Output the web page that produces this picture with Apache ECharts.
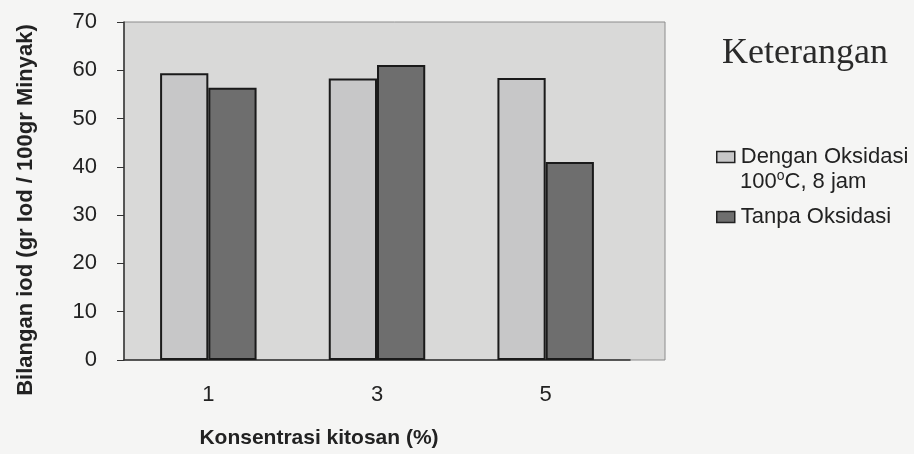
<!DOCTYPE html>
<html>
<head>
<meta charset="utf-8">
<script src="https://cdn.jsdelivr.net/npm/echarts@6/dist/echarts.min.js"></script>
<style>
  html, body { margin: 0; padding: 0; background: #f5f5f4; }
  #chart { width: 914px; height: 454px; }
</style>
</head>
<body>
<div id="chart"></div>
<script>
// konsentrasi kitosan (%)
const categories = ['1', '3', '5'];
const denganOksidasi = [59.4, 58.3, 58.4];
const tanpaOksidasi = [56.4, 61.1, 41.0];
const yTicks = { min: 0, max: 70, interval: 10 };

const textColor = '#222';
const font = '"Liberation Sans", Arial, sans-serif';

const chart = echarts.init(document.getElementById('chart'));

chart.setOption({
    backgroundColor: '#f5f5f4',
    animation: false,
    grid: { left: 124, right: 284, top: 22, bottom: 94 },
    graphic: [
        {
            type: 'rect', z: -10, silent: true,
            shape: { x: 124, y: 22, width: 541, height: 338 },
            style: { fill: '#d9d9d8', stroke: '#8c8c8c', lineWidth: 1 }
        },
        {
            type: 'text',
            x: 26, y: 210, rotation: Math.PI / 2,
            style: {
                text: 'Bilangan iod (gr Iod / 100gr Minyak)',
                font: 'bold 22px ' + font, fill: textColor,
                textAlign: 'center', textVerticalAlign: 'middle'
            }
        },
        {
            type: 'text',
            x: 319, y: 438,
            style: {
                text: 'Konsentrasi kitosan (%)',
                font: 'bold 21px ' + font, fill: textColor,
                textAlign: 'center', textVerticalAlign: 'middle'
            }
        },
        {
            type: 'text',
            x: 805, y: 54,
            style: {
                text: 'Keterangan',
                font: '36px "Liberation Serif", "Times New Roman", serif', fill: '#2a2a2a',
                textAlign: 'center', textVerticalAlign: 'middle'
            }
        },
        {
            type: 'text',
            x: 740, y: 182,
            style: {
                text: '100{sup|o}C, 8 jam',
                font: '22px ' + font, fill: textColor,
                textVerticalAlign: 'middle',
                rich: {
                    sup: { fontSize: 14, fontFamily: font, fill: textColor, padding: [0, 0, 12, 0] }
                }
            }
        }
    ],
    legend: {
        orient: 'vertical',
        left: 711, top: 141,
        icon: 'rect',
        itemWidth: 18, itemHeight: 11, itemGap: 38,
        data: ['Dengan Oksidasi', 'Tanpa Oksidasi'],
        textStyle: { fontSize: 22, fontFamily: font, color: textColor, padding: [0, 0, 0, 1] },
        itemStyle: { borderColor: '#222', borderWidth: 1.5 }
    },
    xAxis: {
        type: 'category',
        data: categories,
        axisLine: { lineStyle: { color: '#333', width: 1.5 } },
        axisTick: { length: 6, lineStyle: { color: '#333' } },
        axisLabel: { fontSize: 22, fontFamily: font, color: textColor, margin: 24 }
    },
    yAxis: {
        type: 'value',
        min: yTicks.min, max: yTicks.max, interval: yTicks.interval,
        axisLine: { show: true, lineStyle: { color: '#333', width: 1.5 } },
        axisTick: { show: true, length: 7, lineStyle: { color: '#333' } },
        splitLine: { show: false },
        axisLabel: { fontSize: 22, fontFamily: font, color: textColor, margin: 27 }
    },
    series: [
        {
            name: 'Dengan Oksidasi',
            type: 'bar',
            data: denganOksidasi,
            barWidth: '28.6%',
            barGap: '0%',
            itemStyle: { color: '#c7c7c8', borderColor: '#1a1a1a', borderWidth: 2 }
        },
        {
            name: 'Tanpa Oksidasi',
            type: 'bar',
            data: tanpaOksidasi,
            barWidth: '28.6%',
            itemStyle: { color: '#6e6e6e', borderColor: '#1a1a1a', borderWidth: 2 }
        }
    ]
});
</script>
</body>
</html>
